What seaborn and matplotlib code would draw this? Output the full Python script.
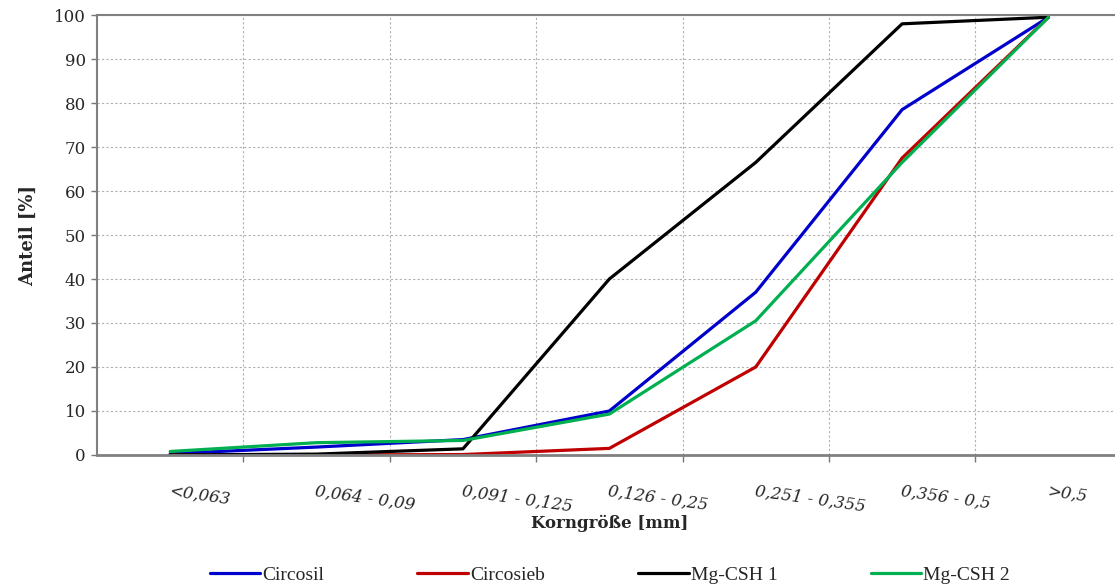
import numpy as np
import pandas as pd
import seaborn as sns
import matplotlib.pyplot as plt
from matplotlib.ticker import FixedLocator, MultipleLocator

sns.set_style("white")
plt.rcParams['font.family'] = ['DejaVu Serif']

categories = ["<0,063", "0,064 - 0,09", "0,091 - 0,125", "0,126 - 0,25",
              "0,251 - 0,355", "0,356 - 0,5", ">0,5"]
circosil = [0.3, 1.8, 3.5, 10.0, 37.0, 78.5, 99.5]
circosieb = [0.0, 0.0, 0.1, 1.5, 20.0, 67.5, 99.5]
mg_csh_1 = [0.0, 0.2, 1.4, 40.0, 66.5, 98.0, 99.5]
mg_csh_2 = [0.8, 2.8, 3.3, 9.3, 30.5, 66.5, 99.5]

series = {"Circosil": circosil, "Circosieb": circosieb,
          "Mg-CSH 1": mg_csh_1, "Mg-CSH 2": mg_csh_2}
colors = {"Circosil": "#0000CC", "Circosieb": "#C00000",
          "Mg-CSH 1": "#000000", "Mg-CSH 2": "#00B050"}

pos = np.arange(len(categories))
df = pd.concat([pd.DataFrame({"pos": pos, "Anteil": v, "Probe": k})
                for k, v in series.items()], ignore_index=True)

fig = plt.figure(figsize=(11.15, 5.87), dpi=100)
ax = fig.add_axes([0.087, 0.2249, 0.919, 0.7495])

sns.lineplot(data=df, x="pos", y="Anteil", hue="Probe", palette=colors,
             linewidth=2.3, ax=ax, legend=False)

ax.set_xlim(-0.5, len(categories) - 0.5)
ax.set_ylim(0, 100)
ax.yaxis.set_major_locator(MultipleLocator(10))
ax.tick_params(axis='y', labelsize=12, length=4, width=1, color='#777777',
               left=True, pad=4)

# category labels at the points, tick marks/grid on the boundaries
ax.xaxis.set_major_locator(FixedLocator(pos))
ax.xaxis.set_minor_locator(FixedLocator(pos[:-1] + 0.5))
ax.set_xticklabels(categories, rotation=-8, ha='left', rotation_mode='anchor',
                   fontsize=12, fontstyle='italic')
ax.tick_params(axis='x', which='major', length=0, pad=20)
ax.tick_params(axis='x', which='minor', length=5, width=1, color='#777777',
               bottom=True)

ax.grid(True, axis='y', which='major', linestyle=(0, (2, 2)), color='#b0b0b0', linewidth=0.8)
ax.grid(True, axis='x', which='minor', linestyle=(0, (2, 2)), color='#b0b0b0', linewidth=0.8)
ax.grid(False, axis='x', which='major')

for side in ['left', 'bottom', 'top']:
    ax.spines[side].set_color('#808080')
    ax.spines[side].set_linewidth(1.5)
ax.spines['bottom'].set_linewidth(2)
ax.spines['right'].set_visible(False)

ax.set_ylabel("Anteil [%]", fontsize=13, fontweight='bold', labelpad=12)
ax.set_xlabel("Korngröße [mm]", fontsize=12, fontweight='bold', labelpad=0)

handles = [plt.Line2D([], [], color=colors[k], linewidth=2.3) for k in series]
fig.legend(handles, list(series.keys()), loc='center', bbox_to_anchor=(0.547, 0.02),
           ncol=4, frameon=False, handlelength=2.6,
           handletextpad=0.1, columnspacing=4.8,
           prop={'family': 'Liberation Serif', 'size': 14})

fig.savefig("out.png", dpi=100)
